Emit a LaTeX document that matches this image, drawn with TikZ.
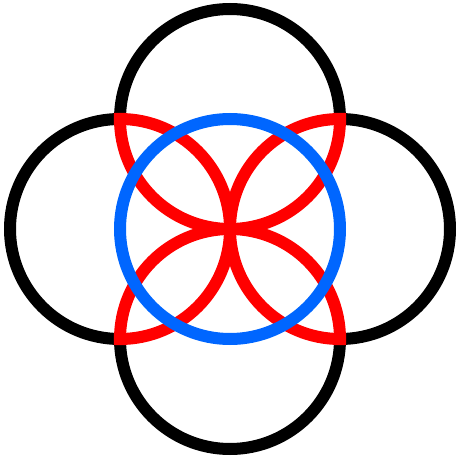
\documentclass[tikz,border=0pt]{standalone}
\begin{document}
\begin{tikzpicture}[x=1pt,y=1pt,
  ring/.style={line width=12pt},
  outerarc/.style={ring,draw=black},
  innerarc/.style={ring,draw=red,line cap=rect},
  centrering/.style={ring,draw=ringblue}]
\definecolor{ringblue}{RGB}{0,102,255}
\useasboundingbox (0,0) rectangle (462,464);
\def\R{110}
\coordinate (C) at (230,235);
\coordinate (T) at (230,345);
\coordinate (B) at (230,125);
\coordinate (L) at (120,235);
\coordinate (Rt) at (340,235);
% outer (black) halves
\draw[outerarc] (T) ++(0:\R) arc[start angle=0,end angle=180,radius=\R];
\draw[outerarc] (L) ++(90:\R) arc[start angle=90,end angle=270,radius=\R];
\draw[outerarc] (B) ++(180:\R) arc[start angle=180,end angle=360,radius=\R];
\draw[outerarc] (Rt) ++(-90:\R) arc[start angle=-90,end angle=90,radius=\R];
% inner (red) halves
\draw[innerarc] (T) ++(180:\R) arc[start angle=180,end angle=360,radius=\R];
\draw[innerarc] (L) ++(-90:\R) arc[start angle=-90,end angle=90,radius=\R];
\draw[innerarc] (B) ++(0:\R) arc[start angle=0,end angle=180,radius=\R];
\draw[innerarc] (Rt) ++(90:\R) arc[start angle=90,end angle=270,radius=\R];
% central blue circle
\draw[centrering] (C) circle[radius=\R];
\end{tikzpicture}
\end{document}
